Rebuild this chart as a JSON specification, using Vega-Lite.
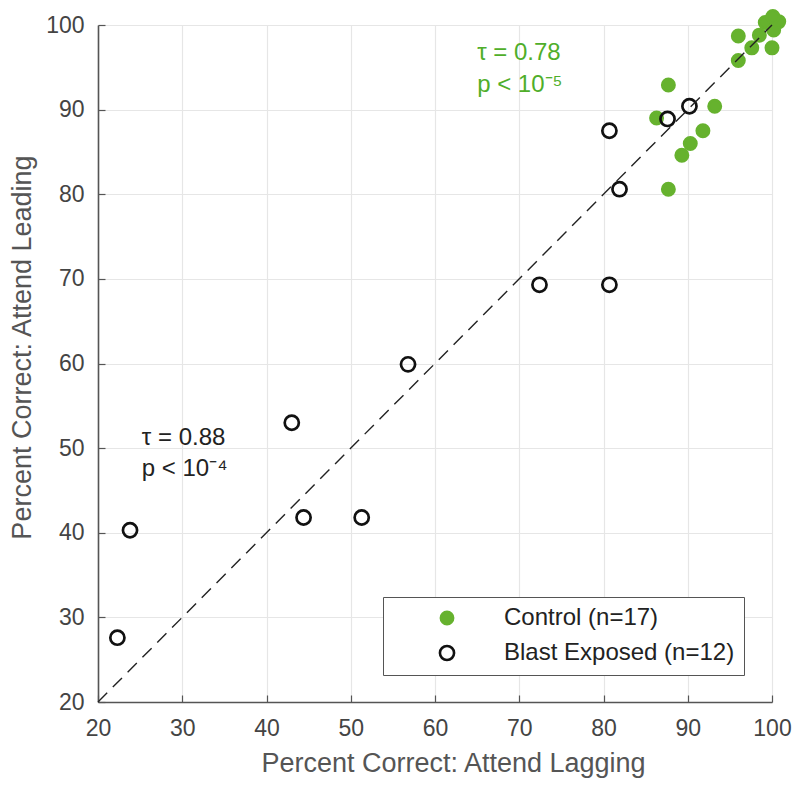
{
  "$schema": "https://vega.github.io/schema/vega-lite/v6.json",
  "width": 674,
  "height": 677,
  "autosize": "none",
  "padding": {"left": 98, "top": 25, "right": 28, "bottom": 84},
  "background": "white",
  "config": {
    "view": {"stroke": null},
    "font": "Liberation Sans",
    "axis": {
      "domainColor": "#555",
      "domainWidth": 1.6,
      "tickColor": "#555",
      "tickSize": -7,
      "tickWidth": 1.2,
      "labelColor": "#444",
      "labelFontSize": 23,
      "labelFont": "Liberation Sans",
      "labelFlush": false,
      "titleColor": "#555",
      "titleFontSize": 27,
      "titleFontWeight": "normal",
      "titleFont": "Liberation Sans",
      "gridColor": "#e6e6e6",
      "gridWidth": 1.2
    }
  },
  "layer": [
    {
      "data": {"values": [
        {"group": "Control (n=17)", "lag": 100, "lead": 100},
        {"group": "Control (n=17)", "lag": 99.2, "lead": 100.3},
        {"group": "Control (n=17)", "lag": 100.8, "lead": 100.4},
        {"group": "Control (n=17)", "lag": 100.1, "lead": 101.0},
        {"group": "Control (n=17)", "lag": 100.2, "lead": 99.4},
        {"group": "Control (n=17)", "lag": 96.0, "lead": 98.7},
        {"group": "Control (n=17)", "lag": 98.5, "lead": 98.8},
        {"group": "Control (n=17)", "lag": 97.6, "lead": 97.3},
        {"group": "Control (n=17)", "lag": 100, "lead": 97.3},
        {"group": "Control (n=17)", "lag": 96.0, "lead": 95.8},
        {"group": "Control (n=17)", "lag": 87.7, "lead": 92.9},
        {"group": "Control (n=17)", "lag": 86.3, "lead": 89.0},
        {"group": "Control (n=17)", "lag": 93.2, "lead": 90.4},
        {"group": "Control (n=17)", "lag": 91.8, "lead": 87.5},
        {"group": "Control (n=17)", "lag": 90.3, "lead": 86.0},
        {"group": "Control (n=17)", "lag": 89.3, "lead": 84.6},
        {"group": "Control (n=17)", "lag": 87.7, "lead": 80.6},
        {"group": "Blast Exposed (n=12)", "lag": 90.2, "lead": 90.4},
        {"group": "Blast Exposed (n=12)", "lag": 87.6, "lead": 88.9},
        {"group": "Blast Exposed (n=12)", "lag": 80.7, "lead": 87.5},
        {"group": "Blast Exposed (n=12)", "lag": 81.9, "lead": 80.6},
        {"group": "Blast Exposed (n=12)", "lag": 72.4, "lead": 69.3},
        {"group": "Blast Exposed (n=12)", "lag": 80.7, "lead": 69.3},
        {"group": "Blast Exposed (n=12)", "lag": 56.8, "lead": 59.9},
        {"group": "Blast Exposed (n=12)", "lag": 43.0, "lead": 53.0},
        {"group": "Blast Exposed (n=12)", "lag": 44.4, "lead": 41.8},
        {"group": "Blast Exposed (n=12)", "lag": 51.3, "lead": 41.8},
        {"group": "Blast Exposed (n=12)", "lag": 23.8, "lead": 40.3},
        {"group": "Blast Exposed (n=12)", "lag": 22.3, "lead": 27.6}
      ]},
      "mark": {"type": "point", "shape": "circle", "strokeWidth": 2.7, "opacity": 1},
      "encoding": {
        "x": {"field": "lag", "type": "quantitative", "scale": {"domain": [20, 100], "nice": false},
              "axis": {"title": "Percent Correct: Attend Lagging", "values": [20,30,40,50,60,70,80,90,100], "labelPadding": 22,
                       "titleX": 355, "titleY": 61, "titleBaseline": "middle", "titleAlign": "center", "titleAnchor": null}},
        "y": {"field": "lead", "type": "quantitative", "scale": {"domain": [20, 100], "nice": false},
              "axis": {"title": "Percent Correct: Attend Leading", "values": [20,30,40,50,60,70,80,90,100], "labelPadding": 21,
                       "titleX": -76, "titleY": 322, "titleBaseline": "middle", "titleAlign": "center", "titleAngle": -90, "titleAnchor": null}},
        "size": {"field": "group", "type": "nominal",
                 "scale": {"type": "ordinal", "domain": ["Control (n=17)", "Blast Exposed (n=12)"], "range": [150, 200]},
                 "legend": {"title": null}},
        "fill": {"field": "group", "type": "nominal",
                 "scale": {"domain": ["Control (n=17)", "Blast Exposed (n=12)"], "range": ["#66b22e", "rgba(0,0,0,0)"]},
                 "legend": {"title": null, "orient": "none", "legendX": 285, "legendY": 572,
                            "direction": "vertical", "fillColor": "white", "strokeColor": "#555",
                            "padding": 9, "symbolOffset": 43, "labelOffset": 45, "labelFontSize": 24,
                            "labelColor": "#222", "labelFont": "Liberation Sans", "symbolStrokeWidth": 2.6,
                            "rowPadding": 10, "labelLimit": 400, "offset": 0}},
        "stroke": {"field": "group", "type": "nominal",
                   "scale": {"domain": ["Control (n=17)", "Blast Exposed (n=12)"], "range": ["#66b22e", "#111111"]},
                   "legend": {"title": null}}
      }
    },
    {
      "data": {"values": [{"x": 20, "y": 20, "x2": 100, "y2": 100}]},
      "mark": {"type": "rule", "color": "#222", "strokeWidth": 1.4, "strokeDash": [13, 8]},
      "encoding": {
        "x": {"field": "x", "type": "quantitative"},
        "y": {"field": "y", "type": "quantitative"},
        "x2": {"field": "x2"},
        "y2": {"field": "y2"}
      }
    },
    {
      "data": {"values": [
        {"lag": 65.0, "lead": 96.7, "label": "τ = 0.78", "c": "g"},
        {"lag": 65.0, "lead": 92.9, "label": "p < 10⁻⁵", "c": "g"},
        {"lag": 25.2, "lead": 51.2, "label": "τ = 0.88", "c": "k"},
        {"lag": 25.2, "lead": 47.5, "label": "p < 10⁻⁴", "c": "k"}
      ]},
      "mark": {"type": "text", "align": "left", "baseline": "middle", "fontSize": 24, "font": "Liberation Sans"},
      "encoding": {
        "x": {"field": "lag", "type": "quantitative"},
        "y": {"field": "lead", "type": "quantitative"},
        "text": {"field": "label"},
        "color": {"field": "c", "type": "nominal", "scale": {"domain": ["g", "k"], "range": ["#4fae2a", "#222222"]}, "legend": null}
      }
    }
  ]
}
